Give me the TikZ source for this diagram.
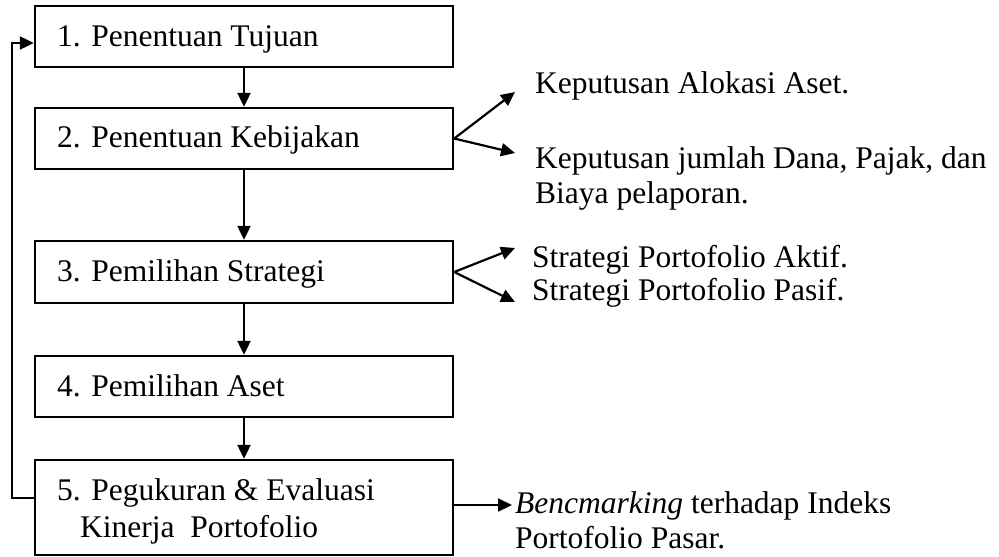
\documentclass[tikz,border=0pt]{standalone}
\usepackage{fontspec}
\setmainfont{Liberation Serif}
\usetikzlibrary{arrows.meta}
\begin{document}
\begin{tikzpicture}[x=1pt,y=-1pt,
  boxnode/.style={draw,line width=2.4pt,minimum width=418pt,inner sep=0pt},
  lbl/.style={anchor=base west,inner sep=0pt,font=\fontsize{31.5}{38}\selectfont},
  arr/.style={line width=2.2pt,-{Triangle[length=14pt,width=13pt]}},
  ln/.style={line width=2.2pt}]
\useasboundingbox (0,0) rectangle (999,557);
\node[boxnode,minimum height=61pt] (b1) at (244,36.5) {};
\node[boxnode,minimum height=61pt] (b2) at (244,138.5) {};
\node[boxnode,minimum height=62pt] (b3) at (244,272) {};
\node[boxnode,minimum height=61pt] (b4) at (244,386.5) {};
\node[boxnode,minimum height=95pt] (b5) at (244,507.5) {};
\node[lbl] (t1) at (57,46) {1. Penentuan Tujuan};
\node[lbl] (t2) at (57,147.5) {2. Penentuan Kebijakan};
\node[lbl] (t3) at (57,281.5) {3. Pemilihan Strategi};
\node[lbl] (t4) at (57,396) {4. Pemilihan Aset};
\node[lbl] (t5a) at (57,500) {5. Pegukuran \& Evaluasi};
\node[lbl] (t5b) at (80,537) {Kinerja\ \ Portofolio};
\node[lbl] (r1) at (535,93) {Keputusan Alokasi Aset.};
\node[lbl] (r2) at (535,168) {Keputusan jumlah Dana, Pajak, dan};
\node[lbl] (r3) at (535,203) {Biaya pelaporan.};
\node[lbl] (s1) at (532,267) {Strategi Portofolio Aktif.};
\node[lbl] (s2) at (532,300) {Strategi Portofolio Pasif.};
\node[lbl] (bm1) at (515,513) {\textit{Bencmarking} terhadap Indeks};
\node[lbl] (bm2) at (515,548) {Portofolio Pasar.};
\coordinate (k1) at (515,92);
\coordinate (k2) at (515,153);
\coordinate (p1) at (515,248);
\coordinate (p2) at (515,302);
\coordinate (e5) at (512,505);
\coordinate (fbx) at (12,498);
\draw[arr] (b1.south) -- (b2.north);
\draw[arr] (b2.south) -- (b3.north);
\draw[arr] (b3.south) -- (b4.north);
\draw[arr] (b4.south) -- (b5.north);
\draw[arr] (b2.east) -- (k1);
\draw[arr] (b2.east) -- (k2);
\draw[arr] (b3.east) -- (p1);
\draw[arr] (b3.east) -- (p2);
\draw[arr] (b5.east |- e5) -- (e5);
\draw[arr] (b5.west |- fbx) -- (fbx) |- ([yshift=-6.5pt]b1.west);
\end{tikzpicture}
\end{document}
